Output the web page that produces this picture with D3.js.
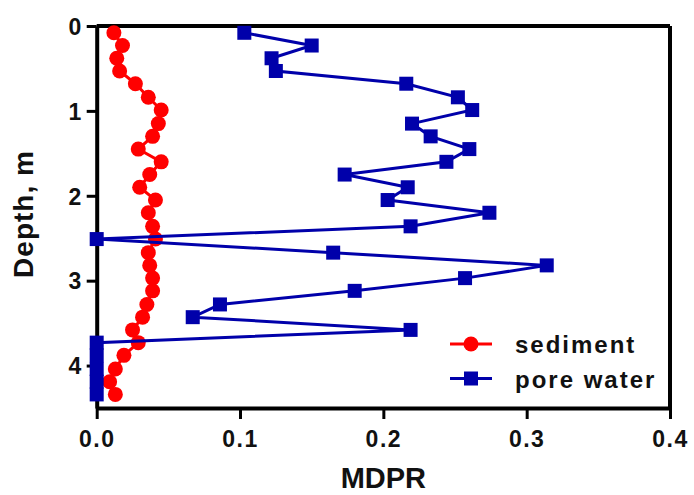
<!DOCTYPE html>
<html>
<head>
<meta charset="utf-8">
<script src="https://cdn.jsdelivr.net/npm/d3@7"></script>
<style>
  body { margin: 0; background: #fff; }
  svg { font-family: "Liberation Sans", Arial, sans-serif; font-weight: bold; }
</style>
</head>
<body>
<div id="chart"></div>
<script>
const width = 694;
const height = 495;

// depth of each sample, m
const depths = [0.08, 0.23, 0.38, 0.53, 0.68, 0.84, 0.99, 1.15, 1.30, 1.45,
  1.60, 1.75, 1.90, 2.05, 2.20, 2.36, 2.51, 2.67, 2.82, 2.97,
  3.12, 3.28, 3.43, 3.58, 3.73, 3.88, 4.04, 4.19, 4.34];

const sediment = [0.012, 0.018, 0.014, 0.016, 0.027, 0.036, 0.045, 0.043, 0.039, 0.029,
  0.045, 0.037, 0.030, 0.041, 0.036, 0.039, 0.041, 0.036, 0.037, 0.039,
  0.039, 0.035, 0.032, 0.025, 0.029, 0.019, 0.013, 0.009, 0.013];

const poreWater = [0.103, 0.150, 0.122, 0.125, 0.216, 0.252, 0.262, 0.220, 0.233, 0.260,
  0.244, 0.173, 0.217, 0.203, 0.274, 0.219, 0.000, 0.165, 0.314, 0.257,
  0.180, 0.086, 0.067, 0.219, 0.000, 0.000, 0.000, 0.000, 0.000];

const xTicks = [0, 0.1, 0.2, 0.3, 0.4];
const yTicks = [0, 1, 2, 3, 4];

const red = "#ff0000";
const blue = "#0000aa";

const svg = d3.select("#chart")
  .append("svg")
  .attr("width", width)
  .attr("height", height);

const x = d3.scaleLinear().domain([0, 0.4]).range([96.7, 670]);
const y = d3.scaleLinear().domain([0, 4.5]).range([26, 408]);

// frame top and right
svg.append("line")
  .attr("x1", x(0)).attr("x2", x(0.4)).attr("y1", y(0)).attr("y2", y(0))
  .attr("stroke", "#000").attr("stroke-width", 4);
svg.append("line")
  .attr("x1", x(0.4)).attr("x2", x(0.4)).attr("y1", y(0)).attr("y2", y(4.5))
  .attr("stroke", "#000").attr("stroke-width", 4);

const xAxis = svg.append("g")
  .attr("transform", `translate(0,${y(4.5)})`)
  .call(d3.axisBottom(x).tickValues(xTicks).tickFormat(d3.format(".1f")).tickSize(11).tickPadding(12).tickSizeOuter(0));

const yAxis = svg.append("g")
  .attr("transform", `translate(${x(0)},0)`)
  .call(d3.axisLeft(y).tickValues(yTicks).tickFormat(d3.format("d")).tickSize(10).tickPadding(4).tickSizeOuter(0));

[xAxis, yAxis].forEach(g => {
  g.select(".domain").attr("stroke", "#000").attr("stroke-width", 4);
  g.selectAll(".tick line").attr("stroke", "#000").attr("stroke-width", 3);
  g.selectAll(".tick text")
    .attr("fill", "#111")
    .style("font-size", "23px")
    .style("font-weight", "bold")
    .style("letter-spacing", "1.5px")
    .style("font-family", "'Liberation Sans', Arial, sans-serif");
});
yAxis.selectAll(".tick text").attr("dy", "0.36em");

// sediment
const sedPts = depths.map((d, i) => ({ d: d, v: sediment[i] }));
const line = d3.line().x(p => x(p.v)).y(p => y(p.d));

svg.append("path")
  .datum(sedPts)
  .attr("d", line)
  .attr("fill", "none")
  .attr("stroke", red)
  .attr("stroke-width", 3);

svg.selectAll("circle.sed")
  .data(sedPts)
  .enter()
  .append("circle")
  .attr("class", "sed")
  .attr("cx", p => x(p.v))
  .attr("cy", p => y(p.d))
  .attr("r", 7.5)
  .attr("fill", red);

// pore water
const pwPts = depths.map((d, i) => ({ d: d, v: poreWater[i] }));
const sq = 14;

svg.append("path")
  .datum(pwPts)
  .attr("d", line)
  .attr("fill", "none")
  .attr("stroke", blue)
  .attr("stroke-width", 3);

svg.selectAll("rect.pw")
  .data(pwPts)
  .enter()
  .append("rect")
  .attr("class", "pw")
  .attr("x", p => x(p.v) - sq / 2)
  .attr("y", p => y(p.d) - sq / 2)
  .attr("width", sq)
  .attr("height", sq)
  .attr("fill", blue);

// legend
const legend = svg.append("g").attr("id", "legend");
const legendItems = [
  { name: "sediment", color: red, shape: "circle" },
  { name: "pore water", color: blue, shape: "square" }
];

legendItems.forEach((it, i) => {
  const ly = 344 + i * 34.5;
  legend.append("line")
    .attr("x1", 450).attr("x2", 492).attr("y1", ly).attr("y2", ly)
    .attr("stroke", it.color).attr("stroke-width", 3);
  if (it.shape === "circle") {
    legend.append("circle").attr("cx", 471).attr("cy", ly).attr("r", 7.5).attr("fill", it.color);
  } else {
    legend.append("rect").attr("x", 471 - sq / 2).attr("y", ly - sq / 2)
      .attr("width", sq).attr("height", sq).attr("fill", it.color);
  }
  legend.append("text")
    .attr("x", 515)
    .attr("y", ly + 9)
    .style("font-size", "24px")
    .style("letter-spacing", "2px")
    .attr("fill", "#111")
    .text(it.name);
});

// axis titles
svg.append("text")
  .attr("x", x(0.2))
  .attr("y", 488)
  .attr("text-anchor", "middle")
  .style("font-size", "29px")
  .attr("fill", "#111")
  .text("MDPR");

svg.append("text")
  .attr("transform", `translate(33,${(y(0) + y(4.5)) / 2 - 3}) rotate(-90)`)
  .attr("text-anchor", "middle")
  .style("font-size", "28px")
  .style("letter-spacing", "1px")
  .attr("fill", "#111")
  .text("Depth, m");
</script>
</body>
</html>
